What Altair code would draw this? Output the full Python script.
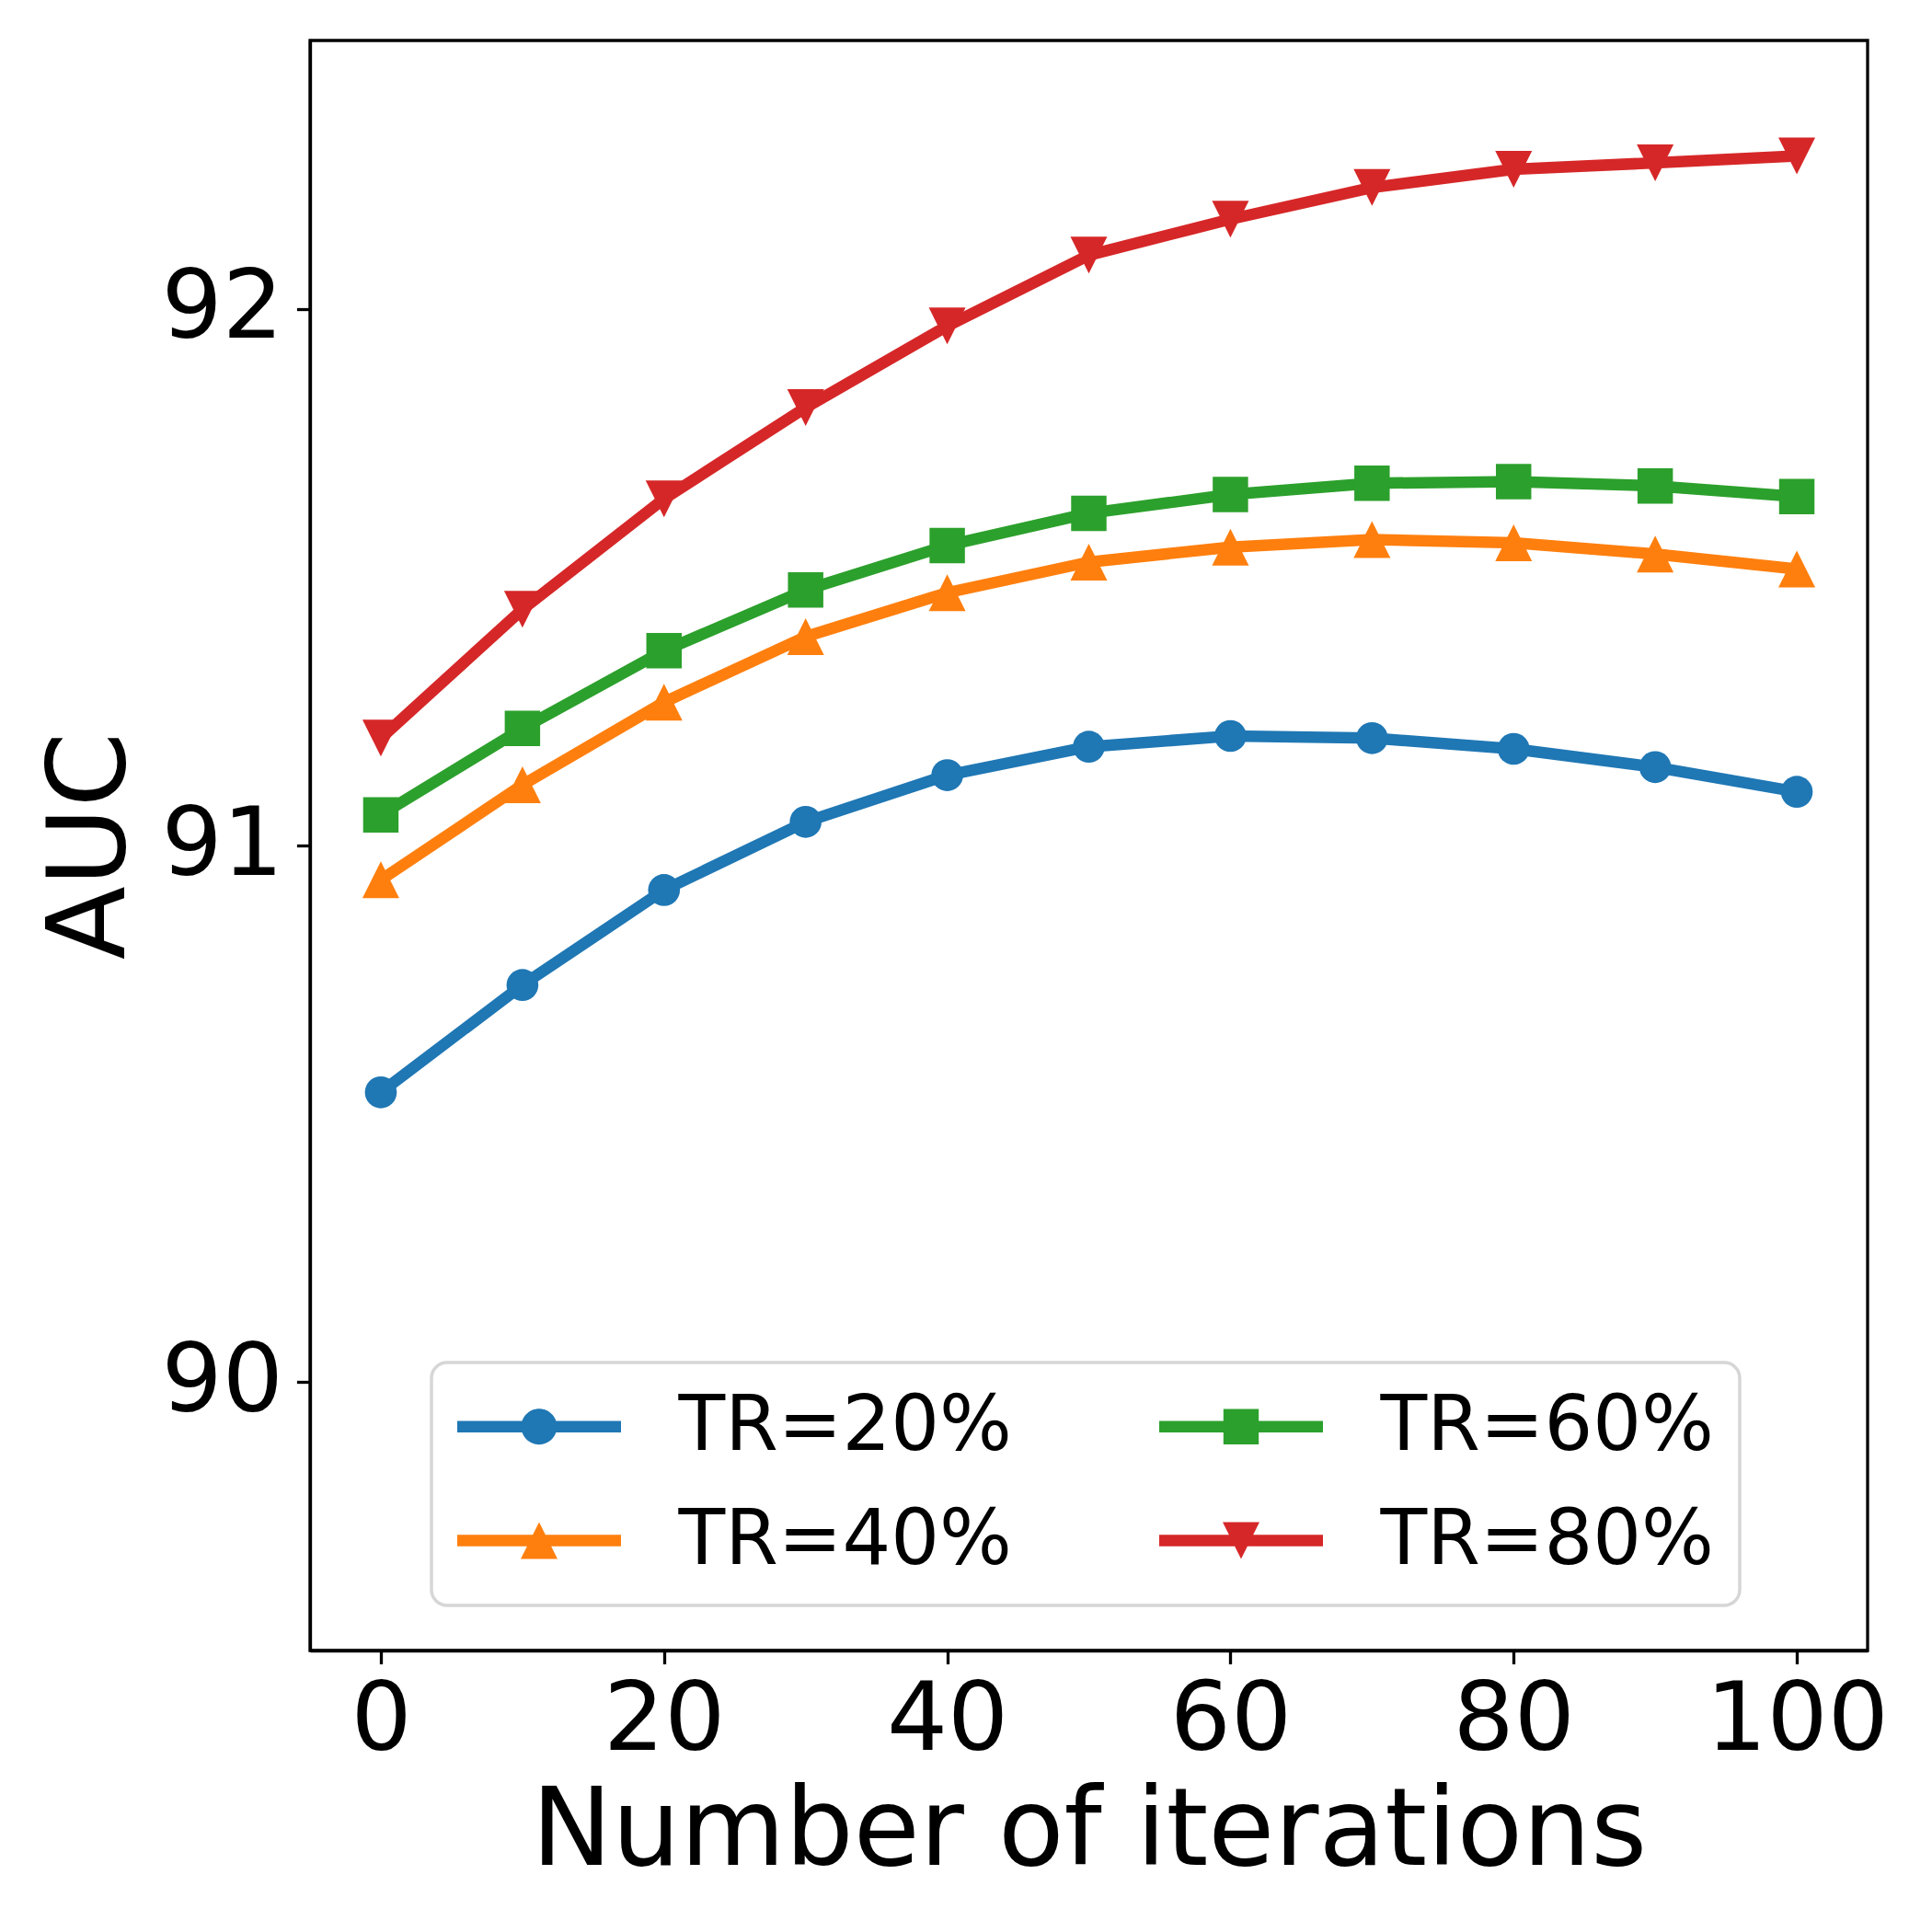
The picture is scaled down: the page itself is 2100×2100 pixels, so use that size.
import altair as alt
import pandas as pd

iterations = [0, 10, 20, 30, 40, 50, 60, 70, 80, 90, 100]
tr20 = [90.54, 90.74, 90.917, 91.044, 91.131, 91.184, 91.204, 91.200, 91.180, 91.146, 91.100]
tr40 = [90.936, 91.113, 91.267, 91.389, 91.471, 91.528, 91.556, 91.570, 91.564, 91.543, 91.515]
tr60 = [91.057, 91.218, 91.363, 91.476, 91.559, 91.619, 91.654, 91.675, 91.678, 91.670, 91.650]
tr80 = [91.20, 91.44, 91.646, 91.816, 91.968, 92.10, 92.167, 92.226, 92.26, 92.272, 92.285]

series_names = ["TR=20%", "TR=40%", "TR=60%", "TR=80%"]
series_values = [tr20, tr40, tr60, tr80]
series_colors = ["#1f77b4", "#ff7f0e", "#2ca02c", "#d62728"]

x_ticks = [0, 20, 40, 60, 80, 100]
y_ticks = [90, 91, 92]

rows = []
for name, vals in zip(series_names, series_values):
    for it, v in zip(iterations, vals):
        rows.append({"iter": it, "auc": v, "series": name})
df = pd.DataFrame(rows)

# legend entries are laid out column-major in a 2-column grid
legend_order = series_names
cmap = dict(zip(series_names, series_colors))
color_scale = alt.Scale(domain=legend_order, range=[cmap[s] for s in legend_order])

# plot marker shapes
TRI_UP = "M0,-1L1,1L-1,1Z"
TRI_DOWN = "M0,1L-1,-1L1,-1Z"
marker_shape = {"TR=20%": "circle", "TR=40%": TRI_UP, "TR=60%": "square", "TR=80%": TRI_DOWN}
marker_size = {"TR=20%": 1200, "TR=40%": 1600, "TR=60%": 1480, "TR=80%": 1600}

# legend symbols: line segment + marker (units of r = sqrt(1600)/2 = 20px)
L, H = 4.45, 0.3125


def fmt(v):
    return ("%.4f" % v).rstrip("0").rstrip(".")


def seg():
    return "M%s,%sH%sV%sH%sZ" % (fmt(-L), fmt(-H), fmt(L), fmt(H), fmt(-L))


def circ(R):
    k = 0.5523 * R
    return ("M{R},0C{R},{k} {k},{R} 0,{R}C{nk},{R} {nR},{k} {nR},0"
            "C{nR},{nk} {nk},{nR} 0,{nR}C{k},{nR} {R},{nk} {R},0Z").format(
        R=fmt(R), k=fmt(k), nR=fmt(-R), nk=fmt(-k))


def sq(s):
    return "M%s,%sH%sV%sH%sZ" % (fmt(-s), fmt(-s), fmt(s), fmt(s), fmt(-s))


legend_shape = {
    "TR=20%": seg() + circ(0.97),
    "TR=40%": seg() + TRI_UP,
    "TR=60%": seg() + sq(0.96),
    "TR=80%": seg() + "M0,1L-1,-1L1,-1Z",
}

FONT = "DejaVu Sans"

x_enc = alt.X(
    "iter:Q",
    scale=alt.Scale(domain=[-5, 105], nice=False, zero=False),
    axis=alt.Axis(values=x_ticks, title="Number of iterations", labelPadding=11, titlePadding=12),
)
y_enc = alt.Y(
    "auc:Q",
    scale=alt.Scale(domain=[89.5, 92.5], nice=False, zero=False),
    axis=alt.Axis(values=y_ticks, title="AUC", labelPadding=15, titlePadding=16),
)

base = alt.Chart(df)

layers = []
for name in series_names:
    sub = base.transform_filter(alt.datum.series == name)
    layers.append(
        sub.mark_line(color=cmap[name], strokeWidth=12.5, strokeJoin="round", strokeCap="round").encode(
            x=x_enc, y=y_enc
        )
    )
    layers.append(
        sub.mark_point(shape=marker_shape[name], filled=True, size=marker_size[name], opacity=1,
                       color=cmap[name]).encode(x=x_enc, y=y_enc)
    )

leg = alt.Legend(title=None)
legend_layer = base.transform_filter(alt.datum.iter < -1000).mark_point(filled=True, opacity=1).encode(
    x=x_enc,
    y=y_enc,
    color=alt.Color("series:N", scale=color_scale, legend=leg),
    shape=alt.Shape(
        "series:N",
        scale=alt.Scale(domain=legend_order, range=[legend_shape[s] for s in legend_order]),
        legend=leg,
    ),
)
layers.append(legend_layer)

chart = (
    alt.layer(*layers)
    .properties(width=1693, height=1750, padding={"left": 32, "top": 36, "right": 20, "bottom": 10})
    .configure_view(stroke="black", strokeWidth=3.3)
    .configure_axis(
        grid=False,
        labelFont=FONT,
        titleFont=FONT,
        labelFontSize=104,
        titleFontSize=117,
        titleFontWeight="normal",
        labelColor="black",
        titleColor="black",
        tickColor="black",
        domainColor="black",
        tickSize=14.6,
        tickWidth=3.3,
        domainWidth=3.3,
        labelFlush=False,
        labelOverlap=False,
        labelLimit=1000,
    )
    .configure_legend(
        orient="none",
        legendX=132,
        legendY=1437,
        columns=2,
        columnPadding=160,
        rowPadding=40,
        symbolSize=1600,
        symbolOffset=47.5,
        symbolStrokeWidth=0,
        labelOffset=110,
        labelFont=FONT,
        labelFontSize=83,
        labelColor="black",
        labelLimit=1000,
        padding=28,
        cornerRadius=17,
        strokeColor="#d6d6d6",
        strokeWidth=3.5,
        fillColor="white",
    )
)

chart.save("out.html", embed_options={"renderer": "svg", "actions": False})
